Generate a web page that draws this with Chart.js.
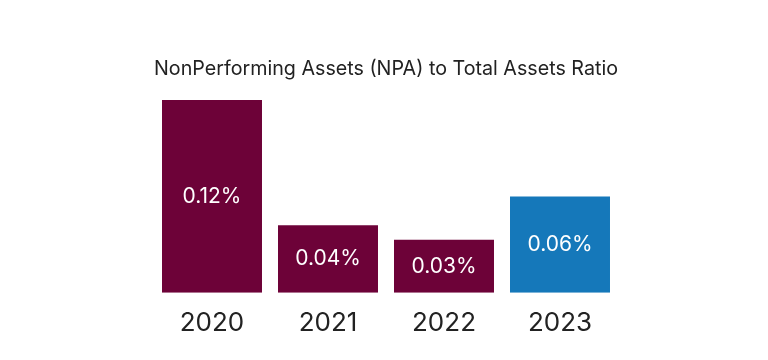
<!DOCTYPE html>
<html>
<head>
<meta charset="utf-8">
<script src="https://cdn.jsdelivr.net/npm/chart.js@4.4.1/dist/chart.umd.min.js"></script>
<style>
    html, body { margin: 0; padding: 0; background: #fff; }
    #wrap { width: 768px; height: 360px; position: relative; }
</style>
</head>
<body>
<div id="wrap"><canvas id="chart"></canvas></div>
<script>
// Chart data
const YEARS = ["2020", "2021", "2022", "2023"];
const NPA_RATIO = [0.12, 0.042, 0.033, 0.06];
const VALUE_LABELS = ["0.12%", "0.04%", "0.03%", "0.06%"];
const BAR_COLORS = ["#6D0238", "#6D0238", "#6D0238", "#1578BA"];

const FONT = "Inter, 'Open Sans', sans-serif";

// draws value text centred inside each bar
const barLabels = {
    id: "barLabels",
    afterDatasetsDraw(chart) {
        const ctx = chart.ctx;
        const meta = chart.getDatasetMeta(0);
        ctx.save();
        ctx.fillStyle = "#ffffff";
        ctx.font = "21px " + FONT;
        ctx.textAlign = "center";
        ctx.textBaseline = "middle";
        meta.data.forEach((bar, i) => {
            const y = (bar.y + bar.base) / 2;
            ctx.fillText(VALUE_LABELS[i], bar.x, y);
        });
        ctx.restore();
    },
};

new Chart(document.getElementById("chart"), {
    type: "bar",
    data: {
        labels: YEARS,
        datasets: [{
            label: "NPA to Total Assets",
            data: NPA_RATIO,
            backgroundColor: BAR_COLORS,
            borderWidth: 0,
            barPercentage: 0.862,
            categoryPercentage: 1,
        }],
    },
    options: {
        responsive: true,
        maintainAspectRatio: false,
        animation: false,
        layout: {
            padding: { top: 57, bottom: 14, left: 154, right: 150 },
        },
        plugins: {
            legend: { display: false },
            tooltip: { enabled: false },
            title: {
                display: true,
                text: "NonPerforming Assets (NPA) to Total Assets Ratio",
                color: "#222222",
                font: { family: FONT, size: 20, weight: "normal" },
                padding: { top: 0, bottom: 19 },
            },
        },
        scales: {
            x: {
                grid: { display: false },
                border: { display: false },
                ticks: {
                    color: "#222222",
                    padding: 7,
                    font: { family: FONT, size: 26 },
                },
            },
            y: {
                display: false,
                min: 0,
                max: 0.12,
            },
        },
    },
    plugins: [barLabels],
});
</script>
</body>
</html>
